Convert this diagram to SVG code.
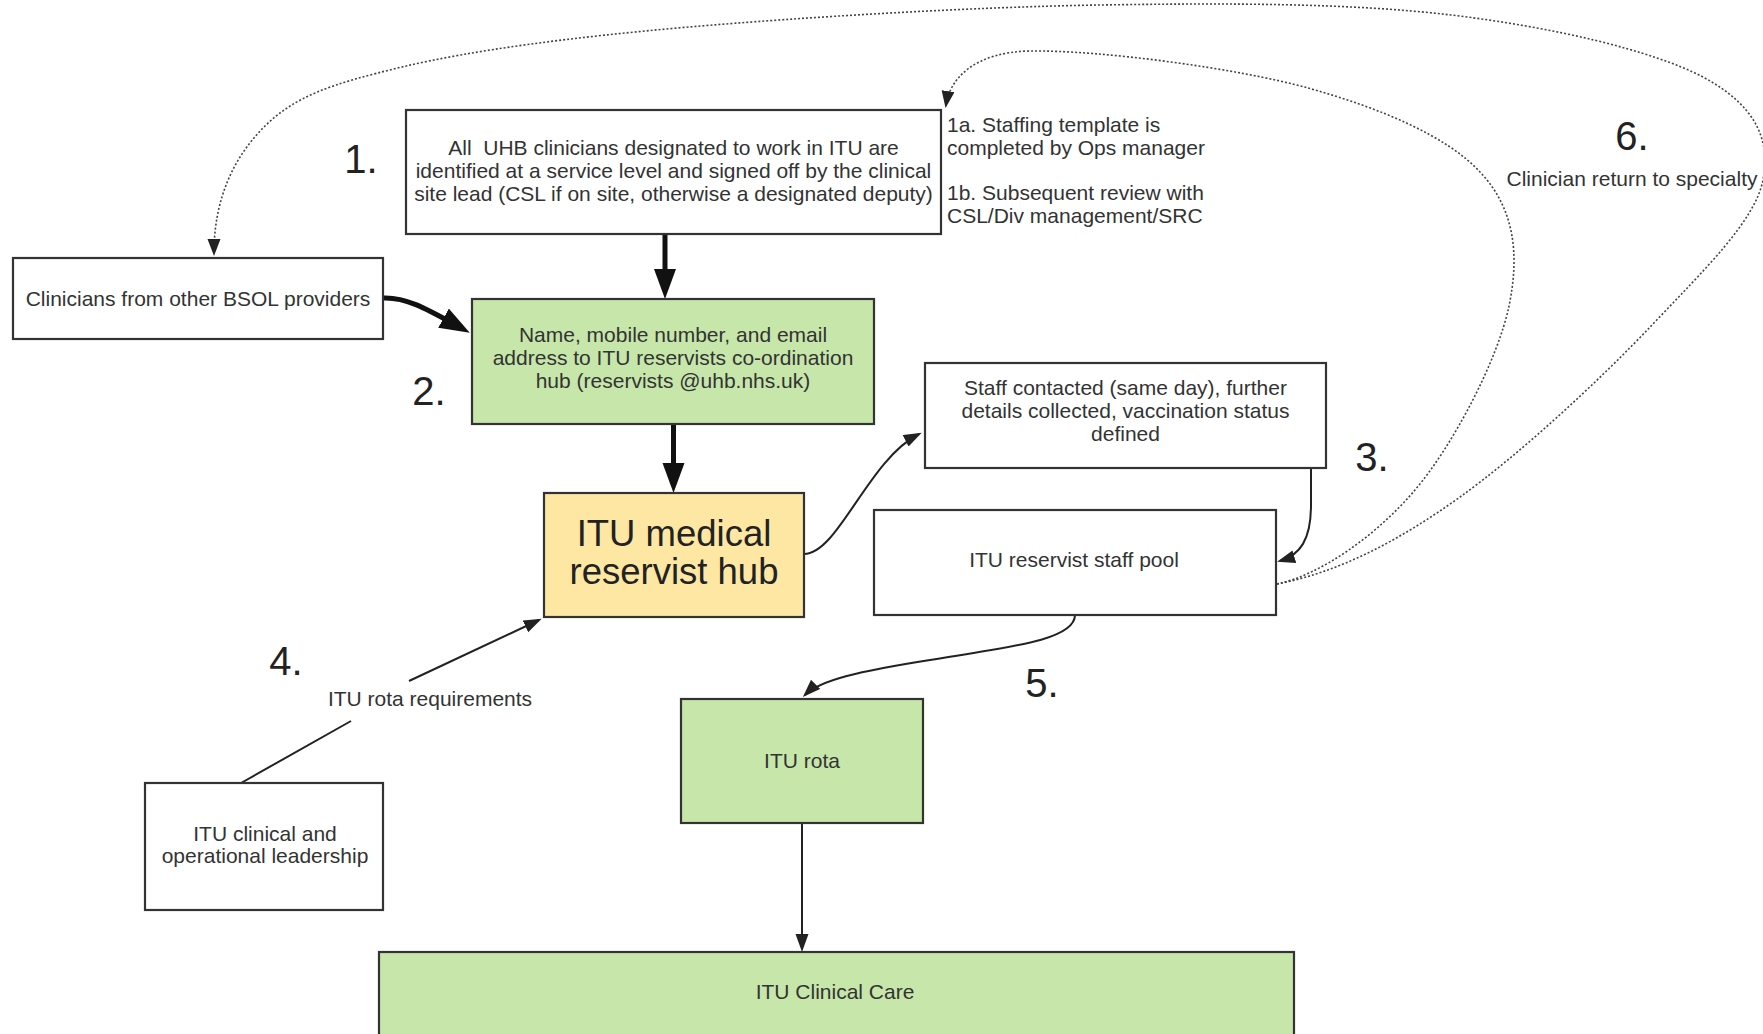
<svg xmlns="http://www.w3.org/2000/svg" width="1763" height="1034" viewBox="0 0 1763 1034">
<defs>
<style>
.box{stroke:#333;stroke-width:2.2}
.w{fill:#fff}
.g{fill:#c6e6aa}
.y{fill:#fde7a3}
text{font-family:"Liberation Sans",Arial,sans-serif;fill:#333}
.t{font-size:21px;text-anchor:middle}
.l{font-size:21px}
.n{font-size:40px;fill:#222;text-anchor:middle}
.big{font-size:36.5px;fill:#222;text-anchor:middle}
.thick{fill:none;stroke:#111;stroke-width:5}
.thin{fill:none;stroke:#222;stroke-width:2}
.dot{fill:none;stroke:#444;stroke-width:1.6;stroke-dasharray:2 2}
</style>
<marker id="ahThick" markerUnits="userSpaceOnUse" markerWidth="32" markerHeight="24" viewBox="0 0 32 24" refX="12" refY="11" orient="auto"><path d="M0,0 L30,11 L0,22 z" fill="#111"/></marker>
<marker id="ahThin" markerUnits="userSpaceOnUse" markerWidth="20" markerHeight="14" viewBox="0 0 20 14" refX="15" refY="6.5" orient="auto"><path d="M0,0 L18,6.5 L0,13 z" fill="#222"/></marker>
<marker id="ahDot" markerUnits="userSpaceOnUse" markerWidth="18" markerHeight="14" viewBox="0 0 18 14" refX="14" refY="6.5" orient="auto"><path d="M0,0 L17,6.5 L0,13 z" fill="#222"/></marker>
</defs>
<rect x="0" y="0" width="1763" height="1034" fill="#fff"/>

<g id="connectors">
<path class="thick" d="M665,235 L665,281" marker-end="url(#ahThick)"/>
<path class="thick" d="M673.5,424 L673.5,475" marker-end="url(#ahThick)"/>
<path class="thick" d="M383,298 C405,297 425,308 454,324" marker-end="url(#ahThick)"/>
<path class="thin" d="M804,554 C838,554 868,460 919,434" marker-end="url(#ahThin)"/>
<path class="thin" d="M1311,468 L1311,505 C1311,540 1300,555 1280,561" marker-end="url(#ahThin)"/>
<path class="thin" d="M1075,615 C1075,640 1010,647 930,660 C860,671 820,680 805,695" marker-end="url(#ahThin)"/>
<path class="thin" d="M802,824 L802,949" marker-end="url(#ahThin)"/>
<path class="thin" d="M241,783 L351,721"/>
<path class="thin" d="M409,681 L539,620" marker-end="url(#ahThin)"/>
<path class="dot" d="M1277,584 C1320,575 1376,536 1415,490 C1454,444 1498,359 1509,306 C1520,253 1514,208 1480,172 C1447,136 1380,108 1308,88 C1236,68 1100,50 1030,51 C975,52 950,78 946,105" marker-end="url(#ahDot)"/>
<path class="dot" d="M1277,584 C1340,572 1400,540 1460,497 C1520,454 1600,380 1652,325 C1704,270 1755,221 1763,180 C1771,139 1755,105 1703,77 C1651,50 1552,27 1451,15 C1350,3 1227,3 1100,5 C973,7 805,17 689,27 C573,37 473,50 402,67 C331,84 295,96 264,127 C233,158 214,200 214,253" marker-end="url(#ahDot)"/>
</g>

<g id="labels">
<text class="n" x="361" y="173">1.</text>
<text class="n" x="429" y="405">2.</text>
<text class="n" x="1372" y="471">3.</text>
<text class="n" x="286" y="675">4.</text>
<text class="n" x="1042" y="697">5.</text>
<text class="n" x="1632" y="150">6.</text>
<text class="t" x="1632" y="186">Clinician return to specialty</text>
<text class="l" x="947" y="132">1a. Staffing template is</text>
<text class="l" x="947" y="154.5">completed by Ops manager</text>
<text class="l" x="947" y="200">1b. Subsequent review with</text>
<text class="l" x="947" y="222.5">CSL/Div management/SRC</text>
<text class="t" x="430" y="706">ITU rota requirements</text>
</g>

<g id="node-uhb">
<rect class="box w" x="406" y="110" width="535" height="124"/>
<text class="t" x="673.5" y="155">All &#160;UHB clinicians designated to work in ITU are</text>
<text class="t" x="673.5" y="178">identified at a service level and signed off by the clinical</text>
<text class="t" x="673.5" y="201">site lead (CSL if on site, otherwise a designated deputy)</text>
</g>

<g id="node-bsol">
<rect class="box w" x="13" y="258" width="370" height="81"/>
<text class="t" x="198" y="305.5">Clinicians from other BSOL providers</text>
</g>

<g id="node-contact">
<rect class="box g" x="472" y="299" width="402" height="125"/>
<text class="t" x="673" y="342">Name, mobile number, and email</text>
<text class="t" x="673" y="365">address to ITU reservists co-ordination</text>
<text class="t" x="673" y="388">hub (reservists @uhb.nhs.uk)</text>
</g>

<g id="node-hub">
<rect class="box y" x="544" y="493" width="260" height="124"/>
<text class="big" x="674" y="546">ITU medical</text>
<text class="big" x="674" y="584">reservist hub</text>
</g>

<g id="node-staff-contacted">
<rect class="box w" x="925" y="363" width="401" height="105"/>
<text class="t" x="1125.5" y="395">Staff contacted (same day), further</text>
<text class="t" x="1125.5" y="418">details collected, vaccination status</text>
<text class="t" x="1125.5" y="441">defined</text>
</g>

<g id="node-pool">
<rect class="box w" x="874" y="510" width="402" height="105"/>
<text class="t" x="1074" y="567">ITU reservist staff pool</text>
</g>

<g id="node-leadership">
<rect class="box w" x="145" y="783" width="238" height="127"/>
<text class="t" x="265" y="841">ITU clinical and</text>
<text class="t" x="265" y="863">operational leadership</text>
</g>

<g id="node-rota">
<rect class="box g" x="681" y="699" width="242" height="124"/>
<text class="t" x="802" y="768">ITU rota</text>
</g>

<g id="node-care">
<rect class="box g" x="379" y="952" width="915" height="100"/>
<text class="t" x="835" y="999">ITU Clinical Care</text>
</g>
</svg>
